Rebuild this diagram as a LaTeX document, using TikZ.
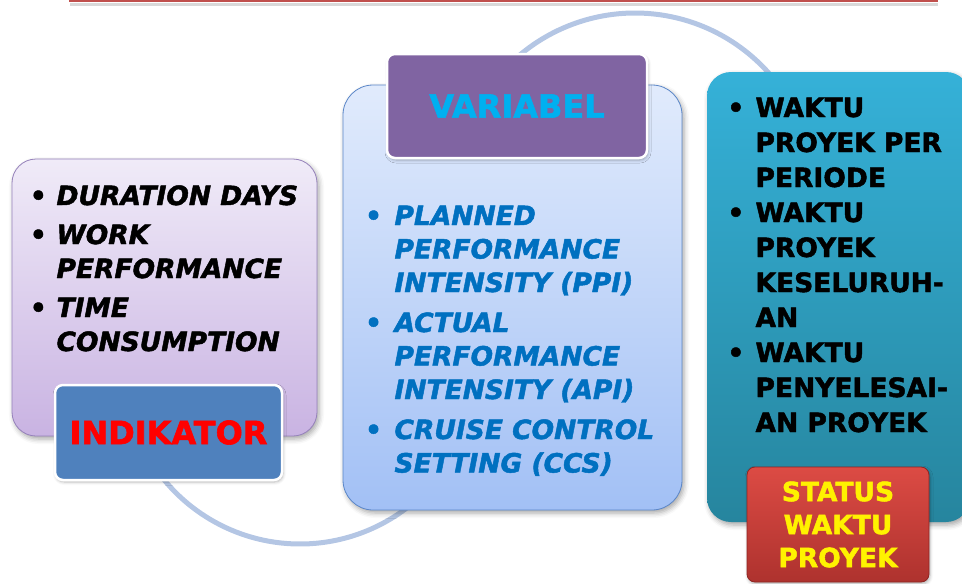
\documentclass[tikz,border=0pt]{standalone}
\usepackage{fontspec}
\setmainfont{DejaVu Sans}[BoldFeatures={FakeBold=1.8}, BoldItalicFeatures={FakeBold=1.8}]
\usetikzlibrary{shadows.blur}

\definecolor{loopblue}{HTML}{B4C6E4}
\definecolor{barred}{HTML}{C0504D}
\definecolor{indtop}{HTML}{F0EBF8}
\definecolor{indbot}{HTML}{C9B3E2}
\definecolor{indedge}{HTML}{9581BA}
\definecolor{indfill}{HTML}{4F81BD}
\definecolor{vartop}{HTML}{E1EBFC}
\definecolor{varbot}{HTML}{A2C0F5}
\definecolor{varedge}{HTML}{5A86C8}
\definecolor{varfill}{HTML}{8064A2}
\definecolor{vartext}{HTML}{00B0F0}
\definecolor{varlist}{HTML}{0070C0}
\definecolor{wkttop}{HTML}{35B1D8}
\definecolor{wktbot}{HTML}{26859E}
\definecolor{stattop}{HTML}{DC4B44}
\definecolor{statbot}{HTML}{AE322E}
\definecolor{statedge}{HTML}{8E2522}

\begin{document}
\begin{tikzpicture}[
x=1pt, y=-1pt,
loopline/.style={draw=loopblue, line width=5pt},
panel/.style={rounded corners=#1, inner sep=0pt,
  blur shadow={shadow xshift=2pt, shadow yshift=-3pt, shadow blur radius=5pt, shadow opacity=35}},
tag/.style={draw=white, line width=2.5pt, rounded corners=8pt, inner sep=0pt,
  font=\fontsize{32}{34}\selectfont\bfseries,
  blur shadow={shadow xshift=1pt, shadow yshift=-2pt, shadow blur radius=3pt, shadow opacity=30}},
list/.style={anchor=base west, inner sep=0pt}
]
\clip (0,0) rectangle (962,584);

% title bar edge
\draw[black!25, line width=3pt, opacity=.6] (70,4.5) -- (938,4.5);
\draw[barred, line width=2.5pt] (69,1.2) -- (938,1.2);

% cycle arcs behind the panels
\draw[loopline] (635,192) ++(-140:179) arc[start angle=-140, end angle=-35, radius=179];
\draw[loopline] (300,368) ++(145:176) arc[start angle=145, end angle=50, radius=176];

% indikator
\node[panel=24pt, draw=indedge, line width=.8pt, top color=indtop, bottom color=indbot,
  minimum width=305pt, minimum height=277pt] (indpanel) at (164.5,297.5) {};
\node[list, font=\fontsize{26.5}{34}\selectfont\bfseries\itshape] (indlist) at (29.7,205) {%
\begin{tabular}[t]{@{}l@{\hspace{9.7pt}}l@{}}
\textbullet & DURATION DAYS\\[5pt]
\textbullet & WORK\\
 & PERFORMANCE\\[5pt]
\textbullet & TIME\\
 & CONSUMPTION
\end{tabular}};
\node[tag, fill=indfill, text=red, minimum width=227pt, minimum height=95pt] (indtag) at (168.5,432.5) {INDIKATOR};

% variabel
\node[panel=30pt, draw=varedge, line width=.8pt, top color=vartop, bottom color=varbot,
  minimum width=339pt, minimum height=425pt] (varpanel) at (512.5,297.5) {};
\node[list, text=varlist, font=\fontsize{26.5}{33.5}\selectfont\bfseries\itshape] (varlist) at (364.9,225) {%
\begin{tabular}[t]{@{}l@{\hspace{12.5pt}}l@{}}
\textbullet & PLANNED\\
 & PERFORMANCE\\
 & INTENSITY (PPI)\\[6.5pt]
\textbullet & ACTUAL\\
 & PERFORMANCE\\
 & INTENSITY (API)\\[6.5pt]
\textbullet & CRUISE CONTROL\\
 & SETTING (CCS)
\end{tabular}};
\node[tag, fill=varfill, text=vartext, minimum width=260pt, minimum height=104pt] (vartag) at (517,106) {VARIABEL};

% status waktu
\node[panel=24pt, top color=wkttop, bottom color=wktbot,
  minimum width=263pt, minimum height=450pt] (wktpanel) at (838.5,297) {};
\node[list, font=\fontsize{26.5}{35}\selectfont\bfseries] (wktlist) at (727.2,117) {%
\begin{tabular}[t]{@{}l@{\hspace{11.2pt}}l@{}}
\textbullet & WAKTU\\
 & PROYEK PER\\
 & PERIODE\\
\textbullet & WAKTU\\
 & PROYEK\\
 & KESELURUH-\\
 & AN\\
\textbullet & WAKTU\\
 & PENYELESAI-\\
 & AN PROYEK
\end{tabular}};
\node[rounded corners=8pt, draw=statedge, line width=.8pt, top color=stattop, bottom color=statbot,
  text=yellow, align=center, inner sep=0pt, font=\fontsize{26.5}{33}\selectfont\bfseries,
  minimum width=182pt, minimum height=115pt,
  blur shadow={shadow xshift=1pt, shadow yshift=-2pt, shadow blur radius=3pt, shadow opacity=30}]
  (stattag) at (838,524.5) {STATUS\\WAKTU\\PROYEK};

\end{tikzpicture}
\end{document}
